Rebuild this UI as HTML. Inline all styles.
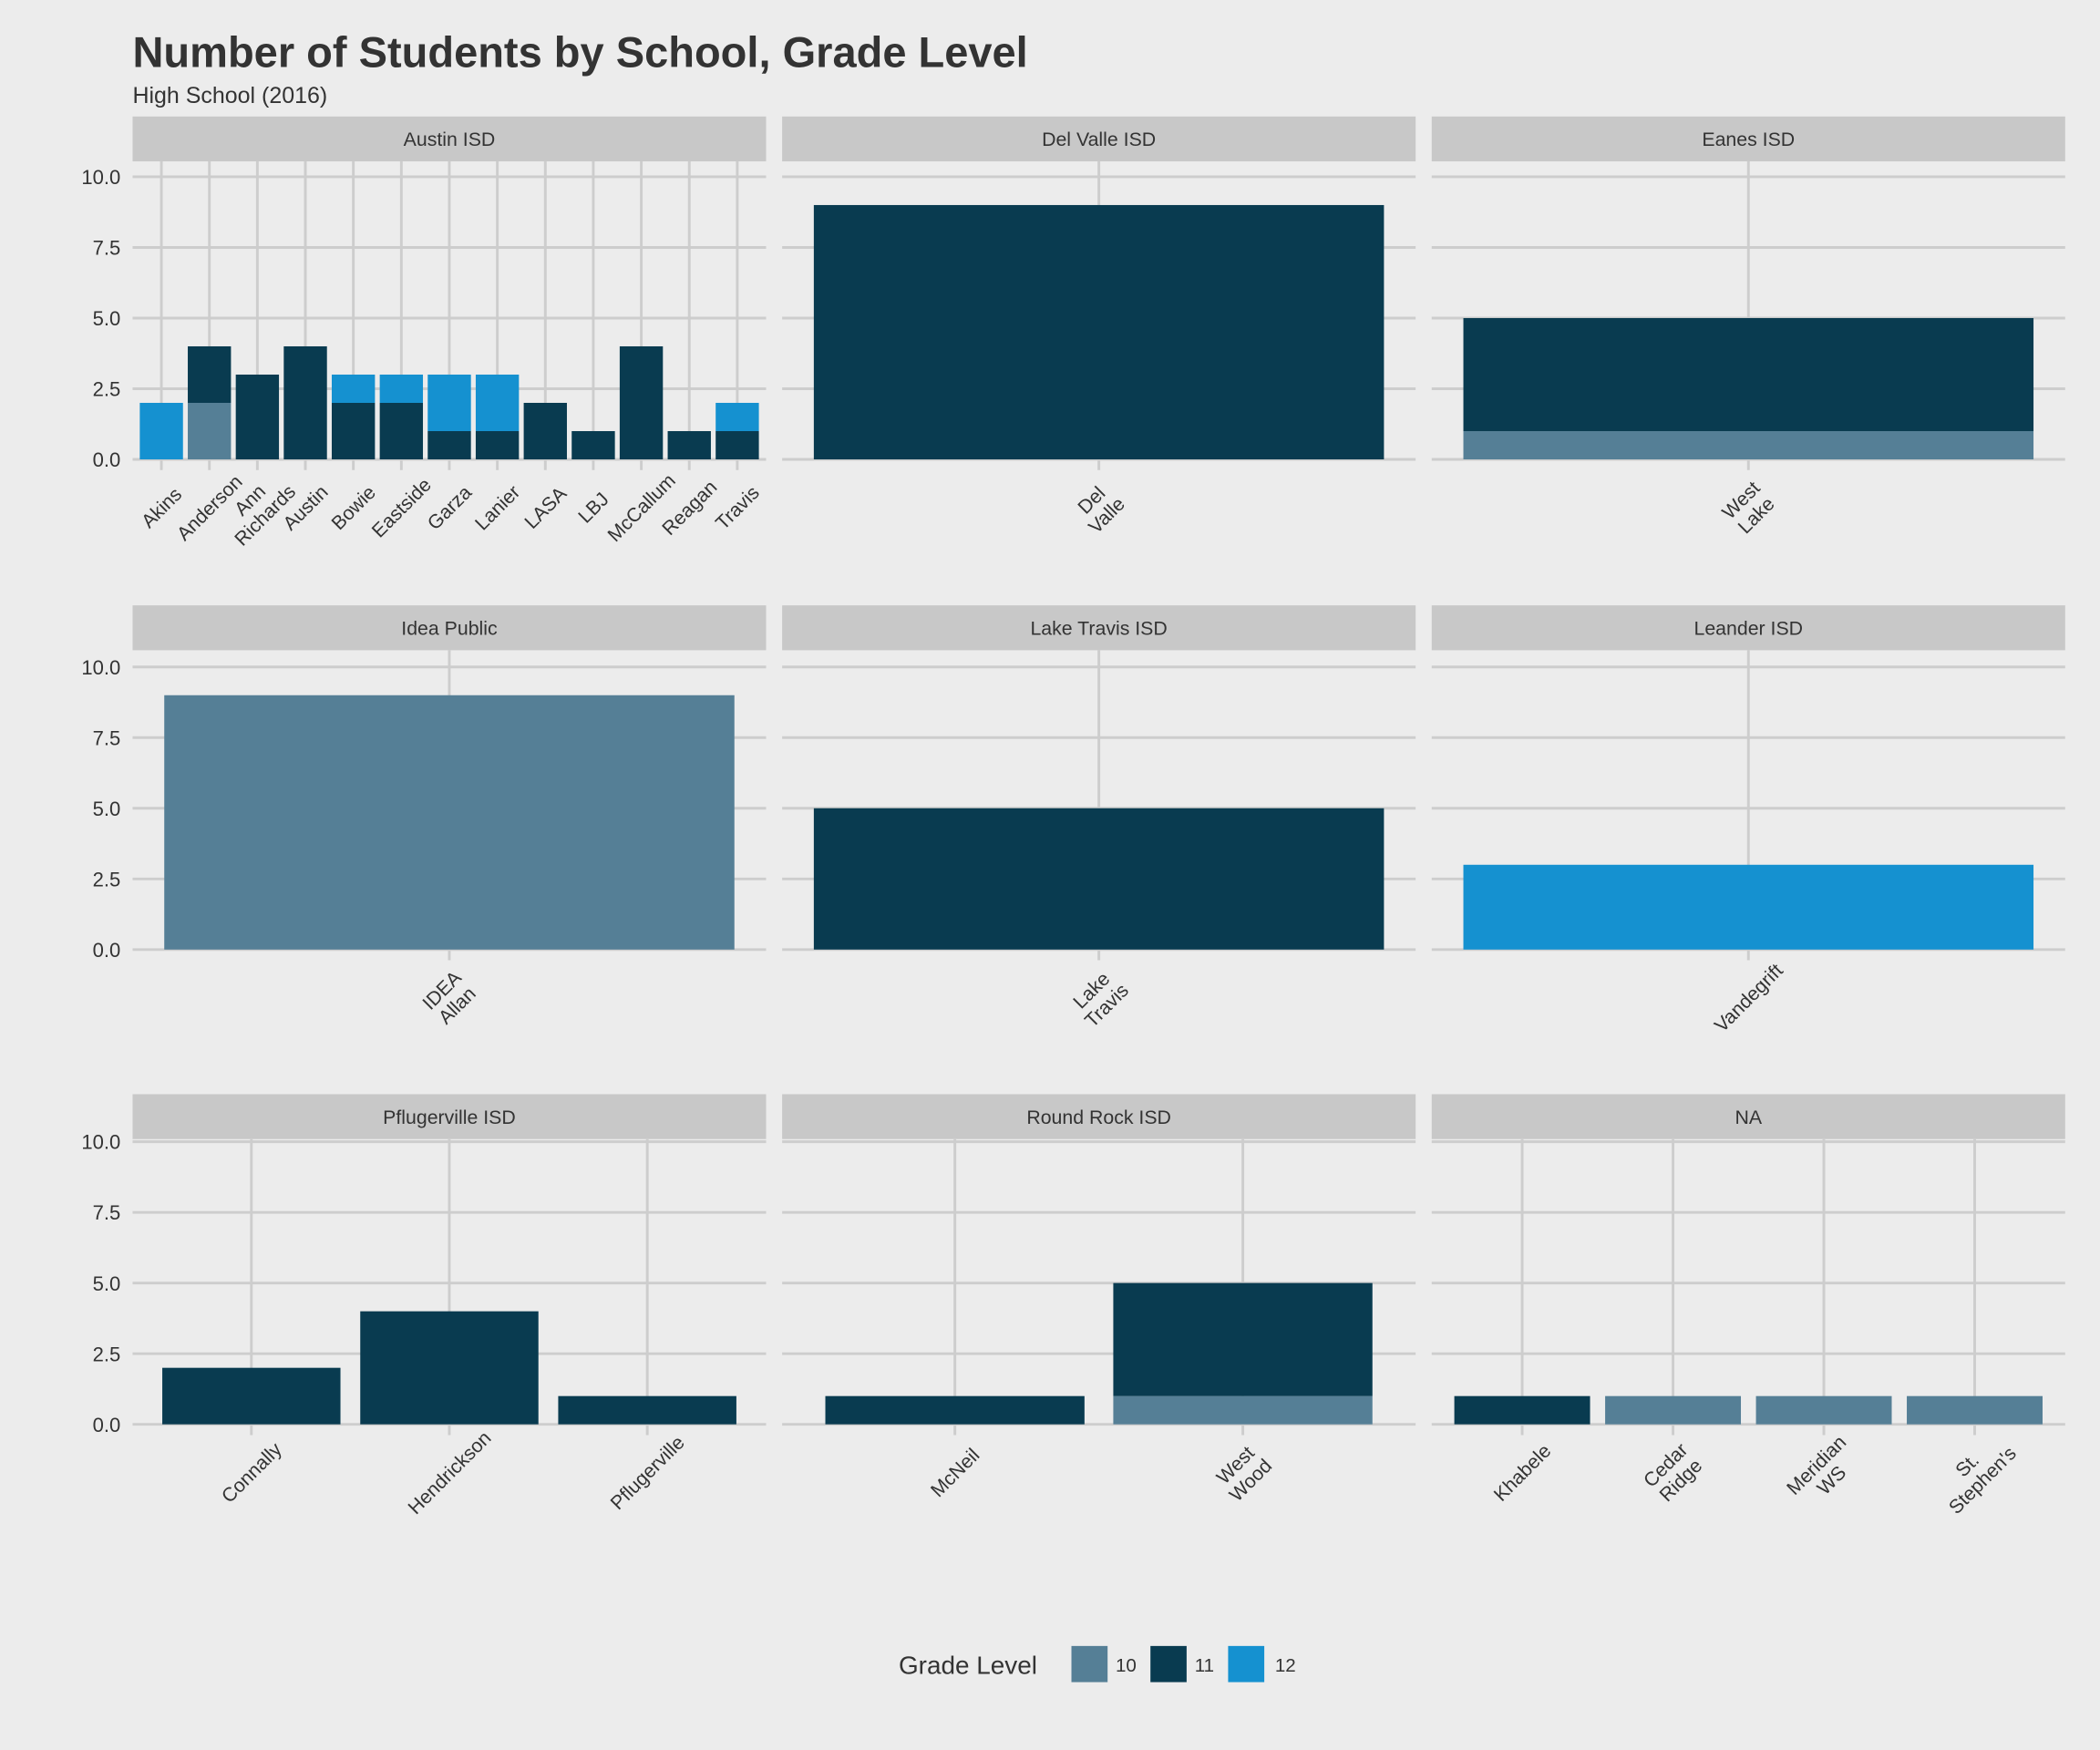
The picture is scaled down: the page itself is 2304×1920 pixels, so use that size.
<!DOCTYPE html>
<html><head><meta charset="utf-8"><title>Number of Students by School, Grade Level</title>
<style>html,body{margin:0;padding:0;background:#ececec}svg{display:block}text{font-family:"Liberation Sans",sans-serif}</style>
</head><body>
<svg id="chart" xmlns="http://www.w3.org/2000/svg" width="2304" height="1920" viewBox="0 0 1568 1306.67">
<rect width="1568" height="1306.67" fill="#ececec"/>
<text x="99" y="50" font-size="32" font-weight="bold" fill="#333">Number of Students by School, Grade Level</text>
<text x="99" y="77" font-size="17" fill="#333">High School (2016)</text>
<g id="panels"></g>
<g>
<text x="671" y="1250" font-size="19" fill="#333">Grade Level</text>
<rect x="800" y="1229" width="27" height="27" fill="#557f96"/>
<text x="833" y="1248" font-size="14" fill="#333">10</text>
<rect x="859" y="1229" width="27" height="27" fill="#093b50"/>
<text x="892" y="1248" font-size="14" fill="#333">11</text>
<rect x="917" y="1229" width="27" height="27" fill="#1591d0"/>
<text x="952" y="1248" font-size="14" fill="#333">12</text>
</g>
</svg>
<script>
const districts = ["Austin ISD","Del Valle ISD","Eanes ISD","Idea Public","Lake Travis ISD","Leander ISD","Pflugerville ISD","Round Rock ISD","NA"];
const schools = [
 ["Akins","Anderson","Ann\nRichards","Austin","Bowie","Eastside","Garza","Lanier","LASA","LBJ","McCallum","Reagan","Travis"],
 ["Del\nValle"],["West\nLake"],["IDEA\nAllan"],["Lake\nTravis"],["Vandegrift"],
 ["Connally","Hendrickson","Pflugerville"],["McNeil","West\nWood"],
 ["Khabele","Cedar\nRidge","Meridian\nWS","St.\nStephen's"]];
const grade10 = [[0,2,0,0,0,0,0,0,0,0,0,0,0],[0],[1],[9],[0],[0],[0,0,0],[0,1],[0,1,1,1]];
const grade11 = [[0,2,3,4,2,2,1,1,2,1,4,1,1],[9],[4],[0],[5],[0],[2,4,1],[1,4],[1,0,0,0]];
const grade12 = [[2,0,0,0,1,1,2,2,0,0,0,0,1],[0],[0],[0],[0],[3],[0,0,0],[0,0],[0,0,0,0]];
const yTicks = [0,2.5,5,7.5,10];
const yTickLabels = ["0.0","2.5","5.0","7.5","10.0"];
const gradeColors = ["#557f96","#093b50","#1591d0"];

const NS="http://www.w3.org/2000/svg";
const root=document.getElementById('panels');
function mk(tag,attrs,parent){const e=document.createElementNS(NS,tag);for(const k in attrs)e.setAttribute(k,attrs[k]);(parent||root).appendChild(e);return e;}
const colX=[99,584,1069], PW=473;
const rowStrip=[87,452,817], rowZero=[343,709,1063.5];
const UNIT=21.1;
districts.forEach((d,i)=>{
  const c=i%3, r=Math.floor(i/3);
  const x0=colX[c], sTop=rowStrip[r], pTop=sTop+33.5, zero=rowZero[r];
  const g=mk('g',{});
  
  
  const strip=mk('rect',{x:x0,y:sTop,width:PW,height:33.5,fill:'#c8c8c8'},g);
  
  
  const st=mk('text',{x:x0+PW/2,y:sTop+22,'font-size':14.5,fill:'#333','text-anchor':'middle'},g);
  st.textContent=d;
  
  
  const yS=v=>zero-v*UNIT;
  yTicks.forEach((t,k)=>{
    const l=mk('line',{x1:x0,x2:x0+PW,y1:yS(t),y2:yS(t),stroke:'#cdcdcd','stroke-width':2},g);
    
    
    if(c===0){
      const tl=mk('text',{x:x0-9,y:yS(t)+5.5,'font-size':15,fill:'#333','text-anchor':'end'},g);
      tl.textContent=yTickLabels[k];
      
      
    }
  });
  const cats=schools[i], n=cats.length;
  const unit = n===1 ? PW : PW/(n+0.2);
  const bw = unit*0.9;
  const cx = j => n===1 ? x0+PW/2 : x0+unit*(0.6+j);
  cats.forEach((s,j)=>{
    const vl=mk('line',{x1:cx(j),x2:cx(j),y1:pTop,y2:zero+8,stroke:'#cdcdcd','stroke-width':2},g);
    
    
  });
  cats.forEach((s,j)=>{
    const vals=[grade10[i][j],grade11[i][j],grade12[i][j]];
    let base=0;
    vals.forEach((v,k)=>{
      if(v>0){
        const b=mk('rect',{x:cx(j)-bw/2,y:yS(base+v),width:bw,height:v*UNIT,fill:gradeColors[k]},g);
        
        
      }
      base+=v;
    });
    const lines=s.split('\n');
    const t=mk('text',{transform:`translate(${cx(j)},${zero+36}) rotate(-45)`,'font-size':14.5,fill:'#333','text-anchor':'middle'},g);
    
    
    lines.forEach((ln,q)=>{
      const ts=mk('tspan',{x:0,y:(q-(lines.length-1)/2)*16+5},t);
      ts.textContent=ln;
    });
  });
});
</script>
</body></html>
